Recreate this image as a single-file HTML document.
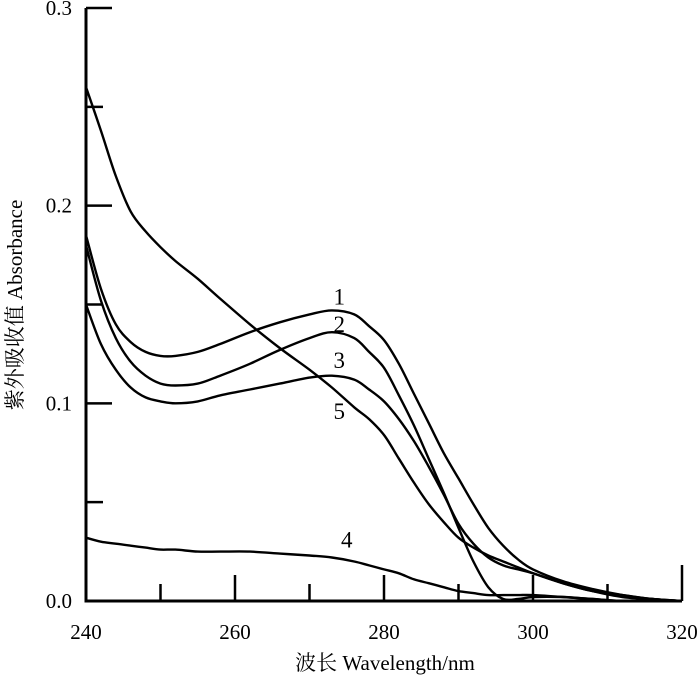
<!DOCTYPE html>
<html><head><meta charset="utf-8"><style>
html,body{margin:0;padding:0;background:#fff;}
svg{display:block;font-family:"Liberation Serif","Noto Serif CJK SC",serif;}
</style></head><body>
<svg id="chart" width="700" height="678" viewBox="0 0 700 678" xmlns="http://www.w3.org/2000/svg">
<g id="axes"></g>
<g id="series"></g>
<g id="labels"></g>
<text x="385" y="670" font-size="21" text-anchor="middle">波长 Wavelength/nm</text>
<text transform="translate(22,305) rotate(-90)" font-size="21" text-anchor="middle">紫外吸收值 Absorbance</text>
</svg>
<script>
const wavelengths=[240,242,244,246,248,250,252,255,258,262,266,270,273,276,278,280,282,284,286,288,290,292,294,296,298,300,304,308,312,316,320];
const curve1=[0.185,0.158,0.14,0.131,0.126,0.124,0.124,0.126,0.13,0.136,0.141,0.145,0.147,0.145,0.139,0.132,0.12,0.105,0.09,0.075,0.062,0.049,0.037,0.028,0.021,0.016,0.01,0.006,0.003,0.001,0];
const curve2=[0.18,0.152,0.133,0.121,0.114,0.11,0.109,0.11,0.114,0.12,0.127,0.133,0.136,0.133,0.126,0.118,0.104,0.089,0.072,0.055,0.037,0.02,0.007,0.001,0.001,0.002,0.002,0.001,0,0,0];
const curve3=[0.15,0.13,0.117,0.108,0.103,0.101,0.1,0.101,0.104,0.107,0.11,0.113,0.114,0.112,0.107,0.101,0.092,0.081,0.068,0.054,0.039,0.029,0.022,0.018,0.016,0.014,0.009,0.005,0.002,0.001,0];
const curve4=[0.032,0.03,0.029,0.028,0.027,0.026,0.026,0.025,0.025,0.025,0.024,0.023,0.022,0.02,0.018,0.016,0.014,0.011,0.009,0.007,0.005,0.004,0.003,0.003,0.003,0.003,0.002,0.001,0,0,0];
const curve5=[0.26,0.238,0.215,0.197,0.187,0.179,0.172,0.163,0.153,0.14,0.128,0.117,0.108,0.098,0.092,0.084,0.072,0.06,0.049,0.04,0.032,0.027,0.023,0.02,0.017,0.014,0.009,0.005,0.003,0.001,0];
const xTicks=[240,250,260,270,280,290,300,310,320];
const xTickLabels=["240","","260","","280","","300","","320"];
const yTicks=[0,0.05,0.1,0.15,0.2,0.25,0.3];
const yTickLabels=["0.0","","0.1","","0.2","","0.3"];
const curveLabels=[["1",274,0.150],["2",274,0.136],["3",274,0.118],["5",274,0.092],["4",275,0.027]];

const NS="http://www.w3.org/2000/svg";
const X0=86,X1=682,Y0=601,Y1=8;
function xs(w){return X0+(w-240)/(320-240)*(X1-X0);}
function ys(v){return Y0-(v/0.3)*(Y0-Y1);}
function mk(tag,attrs,parent){const e=document.createElementNS(NS,tag);for(const k in attrs)e.setAttribute(k,attrs[k]);parent.appendChild(e);return e;}
const axes=document.getElementById('axes');
let e=mk('line',{x1:X0,y1:Y0,x2:X1,y2:Y0,stroke:'#000','stroke-width':3},axes);


e=mk('line',{x1:X0,y1:Y0+1.5,x2:X0,y2:Y1,stroke:'#000','stroke-width':3},axes);


xTicks.forEach((t,i)=>{
  const major=xTickLabels[i]!=="";
  const len=(t===320)?36:(major?26:17);
  let l=mk('line',{x1:xs(t),y1:Y0,x2:xs(t),y2:Y0-len,stroke:'#000','stroke-width':2.5},axes);
  
  
  if(major){
    let tx=mk('text',{x:xs(t),y:639,'font-size':21,'text-anchor':'middle'},axes);
    tx.textContent=xTickLabels[i];
    
    
  }
});
yTicks.forEach((t,i)=>{
  const major=yTickLabels[i]!=="";
  if(t>0){
    let l=mk('line',{x1:X0,y1:ys(t),x2:X0+(major?26:17),y2:ys(t),stroke:'#000','stroke-width':2.5},axes);
    
    
  }
  if(major){
    let tx=mk('text',{x:72,y:ys(t)+7,'font-size':21,'text-anchor':'end'},axes);
    tx.textContent=yTickLabels[i];
    
    
  }
});
function smoothPath(vals){
  const p=wavelengths.map((w,i)=>[xs(w),ys(vals[i])]);
  let d='M'+p[0][0].toFixed(1)+','+p[0][1].toFixed(1);
  for(let i=0;i<p.length-1;i++){
    const a=p[Math.max(0,i-1)],b=p[i],c=p[i+1],n=p[Math.min(p.length-1,i+2)];
    const c1=[b[0]+(c[0]-a[0])/6,b[1]+(c[1]-a[1])/6];
    const c2=[c[0]-(n[0]-b[0])/6,c[1]-(n[1]-b[1])/6];
    d+=' C'+c1[0].toFixed(1)+','+c1[1].toFixed(1)+' '+c2[0].toFixed(1)+','+c2[1].toFixed(1)+' '+c[0].toFixed(1)+','+c[1].toFixed(1);
  }
  return d;
}
const sg=document.getElementById('series');
[[curve1,'curve-1'],[curve2,'curve-2'],[curve3,'curve-3'],[curve4,'curve-4'],[curve5,'curve-5']].forEach(([v,n])=>{
  const pth=mk('path',{d:smoothPath(v),fill:'none',stroke:'#000','stroke-width':2.4,'stroke-linejoin':'round'},sg);
  
  
});
const lg=document.getElementById('labels');
curveLabels.forEach(([t,w,v])=>{
  const tx=mk('text',{x:xs(w),y:ys(v),'font-size':23,'text-anchor':'middle'},lg);
  tx.textContent=t;
  
  
});
</script>
</body></html>
